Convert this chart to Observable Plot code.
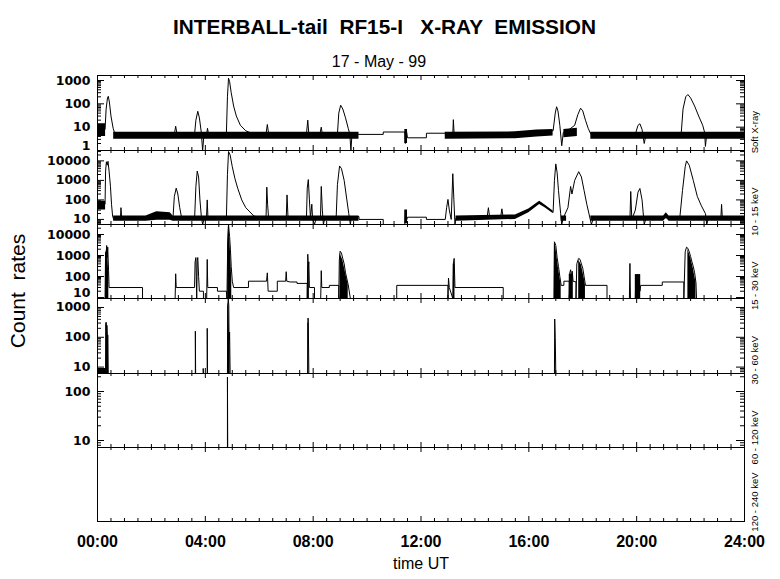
<!DOCTYPE html>
<html><head><meta charset="utf-8">
<script src="https://cdn.jsdelivr.net/npm/d3@7"></script>
<script src="https://cdn.jsdelivr.net/npm/@observablehq/plot@0.6"></script>
<style>
body{margin:0;background:#fff;}
#wrap{position:relative;width:780px;height:579px;background:#fff;overflow:hidden;font-family:"Liberation Sans",Arial,sans-serif;color:#000;}
#title{position:absolute;left:0;width:769px;top:14px;text-align:center;font-weight:bold;font-size:20.8px;white-space:pre;line-height:26px;}
#subtitle{position:absolute;left:0;width:758px;top:52px;text-align:center;font-size:16px;white-space:pre;line-height:20px;}
#ylab{position:absolute;left:18px;top:291px;transform:translate(-50%,-50%) rotate(-90deg);font-size:21px;white-space:pre;line-height:24px;z-index:5;}
</style></head>
<body>
<div id="wrap">
<div id="title">INTERBALL-tail  RF15-I   X-RAY  EMISSION</div>
<div id="subtitle">17 - May - 99</div>
<div id="ylab">Count  rates</div>
</div>
<script>
// ---- data (time in hours UT, count rate) ----
const panelLabels = ["Soft X-ray", "10 - 15 keV", "15 - 30 keV", "30 - 60 keV", "60 - 120 keV", "120 - 240 keV"];
const xTickValues = [0, 4, 8, 12, 16, 20, 24];
const xTickLabels = ["00:00", "04:00", "08:00", "12:00", "16:00", "20:00", "24:00"];

// Soft X-ray
const p1 = [[0,6],[0.28,8],[0.32,60],[0.37,180],[0.40,210],[0.44,120],[0.50,30],[0.58,9],[0.65,5],
[2.85,5],[2.90,11],[2.95,5],[3.60,5],[3.65,20],[3.72,48],[3.78,25],[3.85,6],[3.90,1],[3.95,5],[4.05,5],[4.08,9],[4.12,5],
[4.78,5],[4.82,200],[4.86,1250],[4.90,900],[4.96,300],[5.05,80],[5.15,30],[5.30,12],[5.50,7],[5.80,5],
[6.25,5],[6.30,13],[6.35,5],[7.75,5],[7.80,20],[7.84,5],[8.25,5],[8.30,10],[8.34,5],
[8.90,5],[8.95,40],[9.02,87],[9.10,60],[9.20,25],[9.30,9],[9.36,5],[9.40,1],[9.44,5],[9.70,5],[9.70,4.9],[10.60,4.9],[10.60,6.2],[11.40,6.2],
[11.42,2],[11.46,7],[11.50,3.5],[12.20,3.5],[12.20,5.5],[12.90,5.5],[12.90,5],[13.18,5],[13.20,21],[13.23,5],
[16.30,6],[16.90,7],[16.98,40],[17.03,75],[17.08,50],[17.15,12],[17.22,1.6],[17.28,6],[17.50,8],[17.70,12],[17.82,35],[17.92,65],[18.00,50],[18.10,20],[18.20,9],[18.30,5],
[19.95,5],[20.05,12],[20.12,14],[20.20,8],[20.28,2],[20.35,5],
[21.65,5],[21.72,60],[21.82,200],[21.90,250],[22.00,180],[22.15,80],[22.30,30],[22.45,12],[22.52,6],[22.55,1.5],[22.60,5],[24,5]];
const p1Band = [[0,4,14],[0.3,4,14],[0.31,null,null],[0.6,3,6],[9.7,3,6],[9.71,null,null],[11.4,2,8],[11.5,2,8],[11.51,null,null],
[12.9,3,6],[15.5,3.2,6.3],[16.3,3.8,7.5],[16.9,4.2,8],[16.91,null,null],[17.3,3.5,8],[17.8,4,9],[17.81,null,null],[18.3,3,6],[24,3,6]];

// 10 - 15 keV
const p2 = [[0,50],[0.28,60],[0.30,3000],[0.33,9000],[0.36,6000],[0.39,9500],[0.43,3000],[0.48,500],[0.52,60],[0.56,15],[0.60,10],
[0.85,10],[0.87,40],[0.90,10],[2.80,12],[2.85,150],[2.92,400],[2.98,200],[3.05,40],[3.12,12],
[3.60,10],[3.65,500],[3.70,3000],[3.75,1500],[3.80,100],[3.85,15],[3.90,5.5],[3.95,10],[4.04,10],[4.07,100],[4.10,10],
[4.78,10],[4.82,2000],[4.86,30000],[4.92,20000],[5.00,5000],[5.10,1200],[5.20,400],[5.35,100],[5.50,40],[5.80,15],
[6.25,10],[6.28,450],[6.31,60],[6.35,10],[7.00,10],[7.03,180],[7.07,10],
[7.75,10],[7.78,400],[7.82,1100],[7.86,100],[7.90,12],[7.95,60],[7.98,10],[8.05,5.5],[8.10,10],
[8.27,10],[8.30,490],[8.34,30],[8.38,5.5],[8.42,10],
[8.85,10],[8.90,600],[8.98,5500],[9.05,4000],[9.15,1000],[9.25,100],[9.32,20],[9.38,5.5],[9.42,14],[9.70,14],[9.70,10],[10.60,10],[10.60,5.5],[10.61,null],
[11.40,5.5],[11.42,30],[11.45,8],[11.50,13],[12.20,13],[12.20,10],[12.90,10],[12.95,40],[13.00,106],[13.05,30],[13.12,10],[13.18,2200],[13.22,100],[13.26,5.5],[13.30,12],
[14.45,12],[14.50,40],[14.55,12],[14.95,12],[15.00,35],[15.05,12],[15.50,14],[16.00,28],[16.40,80],[16.60,50],[16.85,25],[16.90,23],
[16.95,1000],[17.00,7000],[17.05,2500],[17.10,300],[17.18,20],[17.22,5.5],[17.28,12],[17.45,40],[17.55,490],[17.60,200],[17.70,1000],[17.85,2800],[17.95,1500],[18.05,300],[18.15,60],[18.25,15],[18.32,5.5],[18.38,10],
[19.75,10],[19.78,270],[19.82,10],[19.95,30],[20.05,250],[20.12,385],[20.20,100],[20.28,5.5],[20.35,12],
[21.60,12],[21.70,300],[21.80,5000],[21.85,10000],[21.95,6000],[22.10,1000],[22.25,150],[22.40,50],[22.55,20],[22.60,5.5],[22.65,10],[23.12,10],[23.15,59],[23.18,10],[24,10]];
const p2Band = [[0,30,85],[0.3,30,85],[0.31,null,null],[0.6,8,15],[1.8,8,15],[2.2,9,25],[2.7,9,22],[2.8,8,15],[9.7,8,15],[9.71,null,null],
[11.4,6,30],[11.5,6,30],[11.51,null,null],[13.3,8,15],[15.5,10,17],[16.0,22,34],[16.4,58,85],[16.6,40,55],[16.9,20,27],[16.91,null,null],
[17.2,8,15],[17.4,8,15],[17.41,null,null],[18.3,8,15],[21.0,8,15],[21.1,12,22],[21.2,8,15],[24,8,15]];

// 15 - 30 keV
const p3 = [[0,9],[0.28,9],[0.30,1500],[0.32,300],[0.34,3000],[0.36,800],[0.38,2500],[0.41,200],[0.43,30],[1.67,30],[1.67,9],
[2.88,9],[2.90,135],[2.92,30],[3.60,30],[3.62,500],[3.65,800],[3.68,9],[3.70,600],[3.72,800],[3.75,100],[3.78,20],[3.93,20],[3.93,9],
[4.05,9],[4.07,650],[4.09,30],[4.45,30],[4.45,20],[4.78,20],[4.80,9],[4.83,3000],[4.86,30000],[4.90,8000],[4.93,2000],[4.96,300],[5.00,60],[5.05,30],
[5.60,30],[5.60,60],[6.27,60],[6.30,150],[6.33,20],[6.67,20],[6.67,60],[6.98,60],[7.00,170],[7.02,60],[7.15,55],[7.40,55],[7.40,47],[7.78,47],
[7.78,9],[7.80,1150],[7.82,300],[7.84,500],[7.86,30],[8.05,30],[8.05,9],[8.28,9],[8.30,190],[8.32,30],[8.60,30],[8.60,38],[8.95,38],[8.95,9],
[8.97,600],[9.00,1600],[9.05,1300],[9.10,700],[9.15,400],[9.20,150],[9.30,40],[9.38,9],[11.10,9],[11.10,38],[13.00,38],[13.00,9],[13.02,85],[13.05,30],
[13.18,9],[13.20,400],[13.23,730],[13.26,30],[15.05,30],[15.05,9],[16.93,9],[16.95,4500],[17.00,3000],[17.05,800],[17.10,300],[17.15,100],[17.20,38],
[17.30,38],[17.30,60],[17.50,60],[17.50,9],[17.52,150],[17.55,210],[17.58,100],[17.61,180],[17.64,60],[17.75,55],[17.75,9],
[17.78,400],[17.82,600],[17.85,730],[17.90,650],[17.95,400],[18.00,250],[18.05,100],[18.10,38],[18.90,38],[18.90,9],
[19.73,9],[19.75,420],[19.77,9],[19.95,9],[19.97,130],[20.00,20],[20.03,130],[20.06,20],[20.09,130],[20.12,20],[20.15,38],[20.95,38],[20.95,55],[21.75,55],
[21.75,9],[21.80,1500],[21.85,2500],[21.90,2200],[21.95,1500],[22.00,900],[22.05,500],[22.10,300],[22.15,150],[22.20,50],[22.22,9],[24,9]];
const p3Fill = [[0.30,800],[0.34,2500],[0.38,1500],[0.42,100],[0.421,null],[4.83,3000],[4.86,30000],[4.90,8000],[4.93,2000],[4.96,300],[4.98,60],[4.981,null],
[7.80,300],[7.86,300],[7.861,null],[9.00,1200],[9.10,600],[9.20,150],[9.30,40],[9.301,null],[13.20,400],[13.26,400],[13.261,null],
[16.95,3500],[17.00,2500],[17.10,250],[17.20,38],[17.201,null],[17.50,130],[17.65,130],[17.651,null],[17.85,600],[17.95,350],[18.05,90],[18.10,38],[18.101,null],
[19.95,120],[20.15,120],[20.151,null],[21.90,2000],[22.00,800],[22.10,250],[22.20,50],[22.201,null]];

// 30 - 60 keV
const p4 = [[0,8],[0.28,6.5],[0.30,6.1],[0.32,320],[0.33,6.1],[0.35,250],[0.37,6.1],[0.38,120],[0.40,6.1],[3.63,6.1],[3.63,160],[3.64,6.1],
[3.92,6.1],[3.92,9],[3.93,6.1],[4.07,6.1],[4.07,200],[4.08,6.1],[4.82,6.1],[4.83,800],[4.85,2000],[4.87,1200],[4.88,80],[4.90,150],[4.92,6.1],
[7.80,6.1],[7.81,440],[7.82,300],[7.84,6.1],[16.95,6.1],[16.96,410],[16.98,100],[17.00,6.1],[24,6.1]];
const p4Fill = [[0,9],[0.3,9],[0.301,null],[0.31,300],[0.36,250],[0.40,100],[0.401,null],[4.83,1500],[4.87,1000],[4.90,100],[4.92,100],[4.921,null],[7.80,300],[7.83,300],[7.831,null]];

// 60 - 120 keV
const p5 = [[0,7.2],[4.82,7.2],[4.82,196],[4.83,7.2],[24,7.2]];

// ---- layout / scales config ----
const W = 780, ML = 97, MR = 36;
const bounds = [75, 150, 224, 298, 373, 447, 521];
const yDomains = [[1, 1640], [5.5, 34000], [9, 30000], [6.1, 2000], [7.2, 233], [1, 10]];
const lines = [p1, p2, p3, p4, p5, null];
const bands = [p1Band, p2Band, null, null, null, null];
const fills = [null, null, p3Fill, p4Fill, null, null];
const labelShift = [-2, 0, 0, 0, 0, -12];

function majors([lo, hi]) { const o = []; for (let e = -1; e < 7; e++) { const v = 10 ** e; if (v >= lo * 0.999 && v <= hi * 1.001) o.push(v); } return o; }
function minors([lo, hi]) { const o = []; for (let e = -1; e < 7; e++) for (let m = 2; m < 10; m++) { const v = m * 10 ** e; if (v >= lo && v <= hi) o.push(v); } return o; }

const xMinor = d3.range(0, 24.001, 0.5).filter(v => v % 4 !== 0);
const wrap = document.getElementById("wrap");

for (let i = 0; i < 6; i++) {
  const h = bounds[i + 1] - bounds[i];
  const mt = 6, mb = i === 5 ? 58 : 6;
  const pw = W - ML - MR;
  const dom = yDomains[i];
  const marks = [];
  if (bands[i]) marks.push(Plot.areaY(bands[i], {x: d => d[0], y1: d => d[1], y2: d => d[2], fill: "black", clip: true}));
  if (fills[i]) marks.push(Plot.areaY(fills[i], {x: d => d[0], y1: () => dom[0], y2: d => d[1], fill: "black", clip: true}));
  if (lines[i]) marks.push(Plot.line(lines[i], {x: d => d[0], y: d => d[1], stroke: "black", strokeWidth: 1, clip: true}));
  // x ticks: bottom (pointing up) and top (pointing down)
  marks.push(Plot.tickX(xMinor, {x: d => d, insetTop: h - 3, stroke: "black"}));
  marks.push(Plot.tickX(xTickValues, {x: d => d, insetTop: h - 5, stroke: "black"}));
  marks.push(Plot.tickX(xMinor, {x: d => d, insetBottom: h - 3, stroke: "black"}));
  marks.push(Plot.tickX(xTickValues, {x: d => d, insetBottom: h - 5, stroke: "black"}));
  if (i < 5) {
    const M = majors(dom), m = minors(dom);
    const fromBottom = v => h * Math.log(v / dom[0]) / Math.log(dom[1] / dom[0]);
    marks.push(Plot.tickY(m, {y: d => d, insetRight: pw - 4, stroke: "black"}));
    marks.push(Plot.tickY(M, {y: d => d, insetRight: pw - 7, stroke: "black"}));
    marks.push(Plot.tickY(m, {y: d => d, insetLeft: pw - 4, stroke: "black"}));
    marks.push(Plot.tickY(M, {y: d => d, insetLeft: pw - 8, stroke: "black"}));
    const low = M.filter(v => fromBottom(v) < 4), rest = M.filter(v => fromBottom(v) >= 4);
    const lab = {frameAnchor: "left", dx: -7, textAnchor: "end", text: d => String(d), fontSize: 12.5, fontWeight: "bold", fontFamily: "DejaVu Sans", fill: "black"};
    marks.push(Plot.text(rest, {...lab, y: d => d}));
    marks.push(Plot.text(low, {...lab, y: d => d, dy: -5}));
  }
  marks.push(Plot.text([panelLabels[i]], {text: d => d, frameAnchor: "right", dx: 10, dy: labelShift[i], rotate: -90, fontSize: 9.5,
    fontFamily: "'Liberation Sans', Arial, sans-serif", fill: "black", ariaLabel: "rlabel"}));
  if (i === 5) {
    marks.push(Plot.text(xTickValues, {x: d => d, frameAnchor: "bottom", dy: 25, text: (d, j) => xTickLabels[j], fontSize: 16, fontWeight: "bold", fill: "black"}));
    marks.push(Plot.text(["time UT"], {text: d => d, frameAnchor: "bottom", dy: 47, fontSize: 16, fill: "black"}));
  }
  marks.push(Plot.frame({stroke: "black"}));
  const svg = Plot.plot({
    width: W, height: h + mt + mb,
    marginLeft: ML, marginRight: MR, marginTop: mt, marginBottom: mb,
    x: {domain: [0, 24], axis: null},
    y: {type: "log", domain: dom, axis: null},
    style: {position: "absolute", left: "0px", top: (bounds[i] - mt) + "px", background: "transparent", overflow: "visible",
      fontFamily: "'Liberation Sans', Arial, sans-serif", color: "black"},
    marks
  });
  d3.select(svg).selectAll('g[aria-label="rlabel"] text').style("letter-spacing", "0.7px");
  wrap.appendChild(svg);
}
</script>
</body></html>
